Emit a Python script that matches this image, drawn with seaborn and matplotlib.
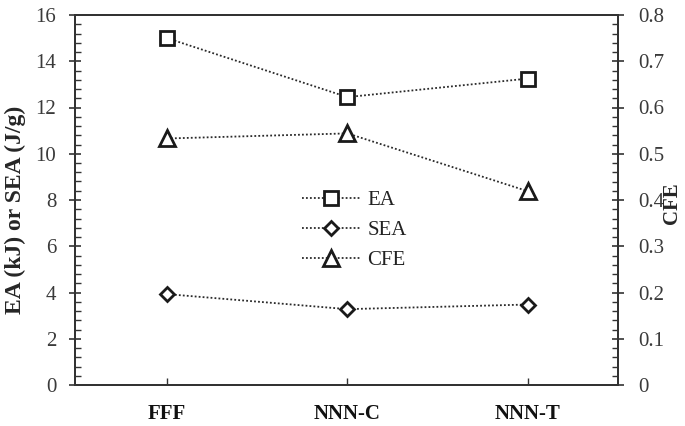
import numpy as np
import pandas as pd
import matplotlib
matplotlib.use("Agg")
import matplotlib.pyplot as plt
import seaborn as sns
from matplotlib.ticker import MultipleLocator, FixedLocator

categories = ["FFF", "NNN-C", "NNN-T"]
ea = [15.0, 12.45, 13.25]
sea = [3.93, 3.28, 3.48]
cfe = [0.533, 0.544, 0.419]
cfe_ticks = [0, 0.1, 0.2, 0.3, 0.4, 0.5, 0.6, 0.7, 0.8]
cfe_tick_labels = ["0", "0.1", "0.2", "0.3", "0.4", "0.5", "0.6", "0.7", "0.8"]

sns.set_theme(style="white")
plt.rcParams["font.family"] = ["Liberation Serif", "DejaVu Serif"]

fig = plt.figure(figsize=(6.85, 4.26), dpi=100)
ax = fig.add_axes([75/685, 41/426, (618-75)/685, (385-15)/426])
ax2 = ax.twinx()

xpos = np.arange(len(categories))
df = pd.DataFrame({"x": xpos, "EA": ea, "SEA": sea, "CFE": cfe})

line_kw = dict(color="#2a2a2a", linewidth=1.3, linestyle=(0, (1, 1.2)),
               markerfacecolor="white", markeredgecolor="#1a1a1a",
               markeredgewidth=2.0)

sns.lineplot(data=df, x="x", y="EA", ax=ax, marker="s", markersize=10.5,
             label="EA", legend=False, **line_kw)
sns.lineplot(data=df, x="x", y="SEA", ax=ax, marker="D", markersize=7.5,
             label="SEA", legend=False, **line_kw)
sns.lineplot(data=df, x="x", y="CFE", ax=ax2, marker="^", markersize=11,
             label="CFE", legend=False, **line_kw)

ax.set_xlim(-0.51, 2.5)
ax.set_ylim(0, 16)
ax2.set_ylim(0, 0.8)

ax.set_xticks(xpos)
ax.set_xticklabels(categories, fontsize=15, fontweight="bold", color="#111111")
ax.tick_params(axis="x", direction="in", length=5, width=1.0, color="#333333",
               pad=14, bottom=True, top=False)

ax.yaxis.set_major_locator(MultipleLocator(2))
ax.yaxis.set_minor_locator(MultipleLocator(0.4))
ax.tick_params(axis="y", which="major", direction="inout", length=9, width=1.2,
               labelsize=15, labelcolor="#3a3a3a", color="#333333", pad=9, left=True)
ax.tick_params(axis="y", which="minor", direction="in", length=4.5, width=1.0,
               color="#333333", left=True)

ax2.yaxis.set_major_locator(FixedLocator(cfe_ticks))
ax2.yaxis.set_minor_locator(MultipleLocator(0.02))
ax2.set_yticklabels(cfe_tick_labels)
ax2.tick_params(axis="y", which="major", direction="inout", length=9, width=1.2,
                labelsize=15, labelcolor="#3a3a3a", color="#333333", pad=10, right=True)
ax2.tick_params(axis="y", which="minor", direction="in", length=4.5, width=1.0,
                color="#333333", right=True)

ax.set_xlabel("")
ax.set_ylabel("EA (kJ) or SEA (J/g)", fontsize=17, fontweight="bold")
ax.yaxis.set_label_coords((26 - 75) / 543, (385 - 210) / 370)
ax2.set_ylabel("CFE", fontsize=15, fontweight="bold", rotation=90)
ax2.yaxis.set_label_coords((662 - 75) / 543, (385 - 203) / 370)

for a in (ax, ax2):
    for s in a.spines.values():
        s.set_color("#333333")
        s.set_linewidth(1.4)

h1, l1 = ax.get_legend_handles_labels()
h2, l2 = ax2.get_legend_handles_labels()
leg = ax2.legend(h1 + h2, l1 + l2, loc="center left",
                 bbox_to_anchor=(302/685, (426-230.5)/426),
                 bbox_transform=fig.transFigure, frameon=False,
                 fontsize=15, handlelength=2.8, handletextpad=0.35,
                 labelspacing=0.5, borderpad=0, borderaxespad=0)
for t in leg.get_texts():
    t.set_color("#222222")

fig.savefig("out.png", dpi=100)
